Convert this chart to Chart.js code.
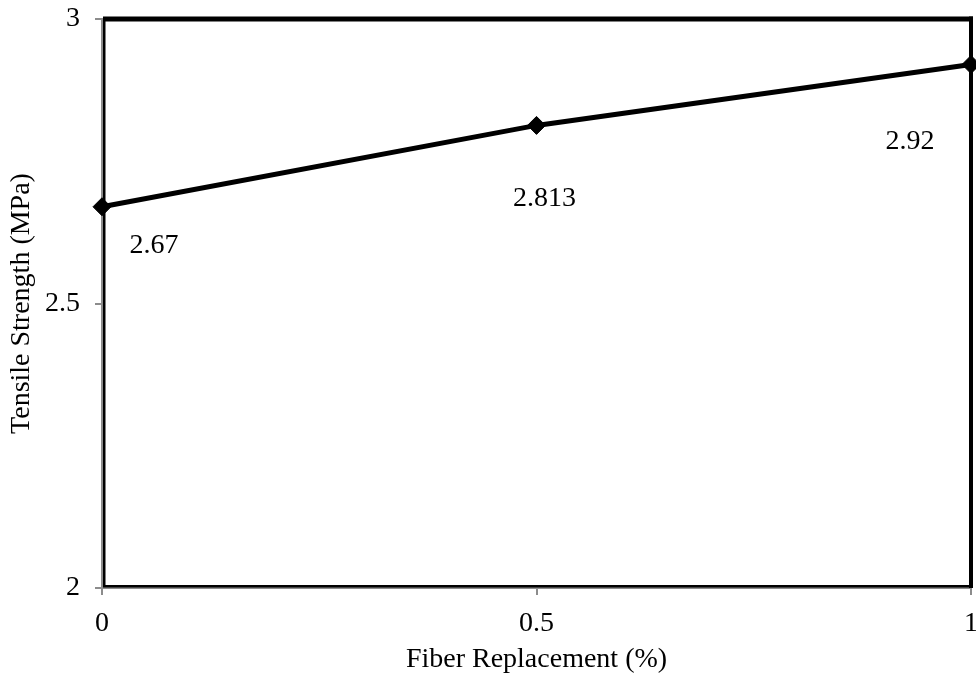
<!DOCTYPE html>
<html>
<head>
<meta charset="utf-8">
<script src="https://cdn.jsdelivr.net/npm/chart.js@4/dist/chart.umd.min.js"></script>
<style>
html,body{margin:0;padding:0;background:#fff;}
#wrap{width:976px;height:677px;}
</style>
</head>
<body>
<div id="wrap"><canvas id="c" width="976" height="677"></canvas></div>
<script>
const fiberReplacement = [0, 0.5, 1];
const tensileStrength = [2.67, 2.813, 2.92];
const pointLabels = ["2.67", "2.813", "2.92"];
const xTicks = [0, 0.5, 1];
const yTicks = [2, 2.5, 3];
const xTitle = "Fiber Replacement (%)";
const yTitle = "Tensile Strength (MPa)";

// label offsets in pixels (style/position)
const labelOffsets = [[52, 39], [8, 73], [-61, 77]];

const FONT = "'Liberation Serif', 'Times New Roman', serif";
const FS = 28;

const framePlugin = {
  id: 'frame',
  afterDraw(chart) {
    const {ctx, chartArea: a} = chart;
    ctx.save();
    ctx.fillStyle = '#000';
    ctx.fillRect(a.left + 1, a.top - 2.5, a.right - a.left + 1, 5);
    ctx.fillRect(a.right - 2, a.top - 2.5, 4, a.bottom - a.top + 2.5);
    ctx.fillRect(a.left + 1, a.top - 2, 2.5, a.bottom - a.top);
    ctx.fillRect(a.left + 1, a.bottom - 3, a.right - a.left, 2.5);
    ctx.restore();
  }
};

const labelPlugin = {
  id: 'pointLabels',
  afterDatasetsDraw(chart) {
    const {ctx} = chart;
    const meta = chart.getDatasetMeta(0);
    ctx.save();
    ctx.font = FS + "px " + FONT;
    ctx.fillStyle = '#000';
    ctx.textAlign = 'center';
    ctx.textBaseline = 'middle';
    meta.data.forEach((pt, i) => {
      const [dx, dy] = labelOffsets[i];
      ctx.fillText(pointLabels[i], pt.x + dx, pt.y + dy);
    });
    ctx.restore();
  }
};

new Chart(document.getElementById('c'), {
  type: 'line',
  data: {
    datasets: [{
      data: fiberReplacement.map((x, i) => ({x: x, y: tensileStrength[i]})),
      borderColor: '#000',
      backgroundColor: '#000',
      borderWidth: 5,
      pointStyle: 'rectRot',
      pointRadius: 9,
      pointBorderWidth: 1,
      pointBackgroundColor: '#000',
      pointBorderColor: '#000',
      tension: 0,
      clip: false
    }]
  },
  options: {
    responsive: false,
    animation: false,
    devicePixelRatio: 1,
    layout: {autoPadding: false, padding: {left: 0, right: 5, top: 19, bottom: 0}},
    plugins: {legend: {display: false}, tooltip: {enabled: false}},
    scales: {
      x: {
        type: 'linear',
        min: 0, max: 1,
        afterFit(s) { s.height = 89; s.paddingLeft = 0; s.paddingRight = 0; },
        afterBuildTicks(s) { s.ticks = xTicks.map(v => ({value: v})); },
        grid: {drawOnChartArea: false, color: '#8c8c8c', tickLength: 7, lineWidth: 2},
        border: {color: '#8c8c8c', width: 2},
        ticks: {color: '#000', font: {family: FONT, size: FS}, padding: 12, maxRotation: 0,
                callback: v => String(v)},
        title: {display: true, text: xTitle, color: '#000', font: {family: FONT, size: FS}, padding: {top: 4, bottom: 1}}
      },
      y: {
        min: 2, max: 3,
        afterFit(s) { s.width = 102; s.paddingTop = 0; s.paddingBottom = 0; },
        afterBuildTicks(s) { s.ticks = yTicks.map(v => ({value: v})); },
        grid: {drawOnChartArea: false, color: '#8c8c8c', tickLength: 7, lineWidth: 2},
        border: {color: '#8c8c8c', width: 2},
        ticks: {color: '#000', font: {family: FONT, size: FS}, padding: 15,
                callback: v => String(v)},
        title: {display: true, text: yTitle, color: '#000', font: {family: FONT, size: FS}, padding: {top: 5, bottom: 4}}
      }
    }
  },
  plugins: [framePlugin, labelPlugin]
});
</script>
</body>
</html>
